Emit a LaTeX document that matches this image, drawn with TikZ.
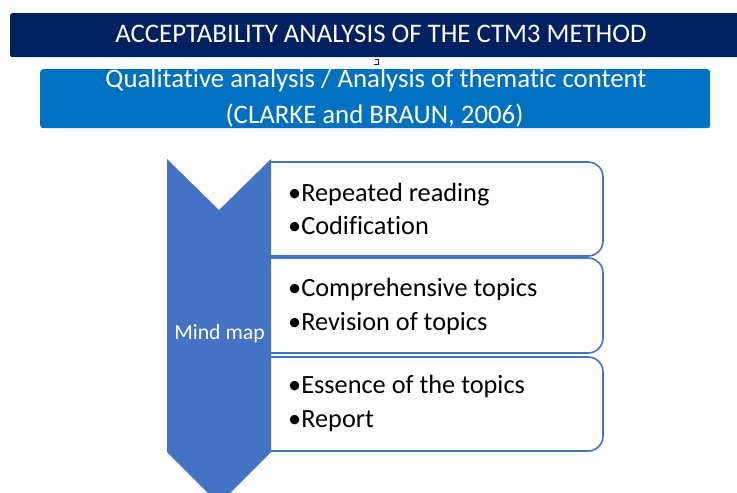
\documentclass[tikz,border=0pt]{standalone}
\usepackage{fontspec}
\setmainfont{Carlito}[Ligatures={NoCommon,NoDiscretionary,NoContextual}]
\definecolor{navy}{HTML}{002060}
\definecolor{midblue}{HTML}{0070C0}
\definecolor{chev}{HTML}{4472C4}
\tikzset{
  boxshape/.style={draw=chev, line width=1.6pt, fill=white, rounded corners=15pt, inner sep=0pt},
  itemtext/.style={anchor=base west, inner sep=0pt, font=\fontsize{26.3}{30}\selectfont, text=black},
  whitetext/.style={inner sep=0pt, text=white},
}
\begin{document}
\begin{tikzpicture}[x=1pt,y=-1pt]
\useasboundingbox (0,0) rectangle (737,493);
\clip (0,0) rectangle (737,493);
% title bar
\node[fill=navy, rounded corners=2pt, minimum width=737pt, minimum height=44pt, inner sep=0pt, anchor=north west] (title) at (10,13) {};
\node[whitetext, anchor=base, font=\fontsize{26.8}{30}\selectfont] (titletext) at (381,42.5) {ACCEPTABILITY ANALYSIS OF THE CTM3 METHOD};
% small mark
\draw[navy, line width=1pt] (375,59) -- (378,59) -- (378,64) -- (374,64);
% second bar
\node[fill=midblue, rounded corners=3pt, minimum width=670pt, minimum height=59pt, inner sep=0pt, anchor=north west] (sub) at (40,69) {};
\node[whitetext, anchor=base, font=\fontsize{26.8}{30}\selectfont] (subl1) at (376,87) {Qualitative analysis / Analysis of thematic content};
\node[whitetext, anchor=base, font=\fontsize{26.8}{30}\selectfont] (subl2) at (374.5,123.5) {(CLARKE and BRAUN, 2006)};
% boxes
\begin{scope}
\clip (270.5,0) rectangle (737,493);
\node[boxshape, minimum width=362pt, minimum height=94pt] (b1) at (422,209) {};
\node[boxshape, minimum width=362pt, minimum height=95pt] (b2) at (422,305.5) {};
\node[boxshape, minimum width=362pt, minimum height=94pt] (b3) at (422,404) {};
\end{scope}
% chevron
\fill[chev] (167,159) -- (219,210) -- (271,159) -- (271,452) -- (219,504) -- (167,452) -- cycle;
\node[whitetext, anchor=base, font=\fontsize{21.7}{24}\selectfont] (mm) at (219.5,339) {Mind map};
% items
\node[itemtext] (i1) at (288,201) {•Repeated reading};
\node[itemtext] (i2) at (288,234) {•Codification};
\node[itemtext] (i3) at (288,296.7) {•Comprehensive topics};
\node[itemtext] (i4) at (288,330) {•Revision of topics};
\node[itemtext] (i5) at (288,393) {•Essence of the topics};
\node[itemtext] (i6) at (288,427) {•Report};
\end{tikzpicture}
\end{document}
